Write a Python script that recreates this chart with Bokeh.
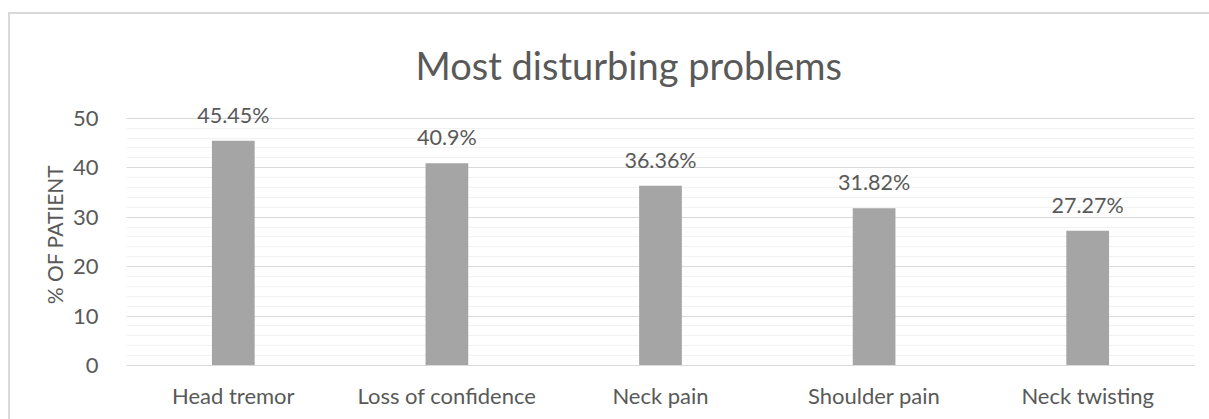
from bokeh.plotting import figure
from bokeh.models import ColumnDataSource, FixedTicker, Range1d
from bokeh.core.properties import value
from bokeh.embed import file_html
from bokeh.resources import INLINE

categories = ["Head tremor", "Loss of confidence", "Neck pain", "Shoulder pain", "Neck twisting"]
percent_values = [45.45, 40.9, 36.36, 31.82, 27.27]
value_labels = ["45.45%", "40.9%", "36.36%", "31.82%", "27.27%"]
y_ticks = [0, 10, 20, 30, 40, 50]
minor_ticks = [0, 2, 4, 6, 8, 10, 12, 14, 16, 18, 20, 22, 24, 26, 28, 30, 32, 34, 36, 38, 40, 42, 44, 46, 48, 50]

FONT = "Lato"
TXT = "#595959"

src = ColumnDataSource(dict(cat=categories, val=percent_values, lab=value_labels))

# y range extends a little above 50 so the top value label is not clipped by the frame
p = figure(x_range=categories, y_range=Range1d(0, 53),
           width=1199, height=405, output_backend="svg", toolbar_location=None,
           min_border_left=116, min_border_right=17, min_border_top=89, min_border_bottom=56,
           title="Most disturbing problems")
p.styles = {"margin-left": "8px", "margin-top": "12px",
            "border-left": "2px solid #d9d9d9", "border-top": "2px solid #d9d9d9",
            "box-sizing": "content-box"}

p.title.text_font = FONT
p.title.text_font_size = "38px"
p.title.text_font_style = "normal"
p.title.text_color = TXT
p.title.align = "left"
p.title.offset = 289
p.title.standoff = 31

p.vbar(x="cat", top="val", width=0.2, source=src, fill_color="#a5a5a5", line_color=None)
p.text(x="cat", y="val", text="lab", source=src, text_align="center", text_baseline="alphabetic",
       y_offset=-26, text_font=value(FONT), text_font_size="21.5px", text_color=TXT)

p.outline_line_color = None
p.yaxis.ticker = FixedTicker(ticks=y_ticks, minor_ticks=minor_ticks)
p.ygrid.grid_line_color = "#d9d9d9"
p.ygrid.grid_line_width = 1
p.ygrid.minor_grid_line_color = "#f2f2f2"
p.ygrid.minor_grid_line_width = 1
p.xgrid.grid_line_color = None

p.yaxis.axis_line_color = None
p.yaxis.major_tick_line_color = None
p.yaxis.minor_tick_line_color = None
p.yaxis.major_label_standoff = 22
p.yaxis.axis_label = "% OF PATIENT"
p.yaxis.axis_label_text_font = FONT
p.yaxis.axis_label_text_font_style = "normal"
p.yaxis.axis_label_text_font_size = "21px"
p.yaxis.axis_label_text_color = TXT
p.yaxis.axis_label_standoff = 3

p.xaxis.axis_line_color = "#d9d9d9"
p.xaxis.axis_line_width = 1
p.xaxis.major_tick_line_color = None
p.xaxis.minor_tick_line_color = None
p.xaxis.major_label_standoff = 10

for ax in (p.xaxis, p.yaxis):
    ax.major_label_text_font = FONT
    ax.major_label_text_font_size = "22px"
    ax.major_label_text_color = TXT

open("out.html", "w").write(file_html(p, INLINE))
